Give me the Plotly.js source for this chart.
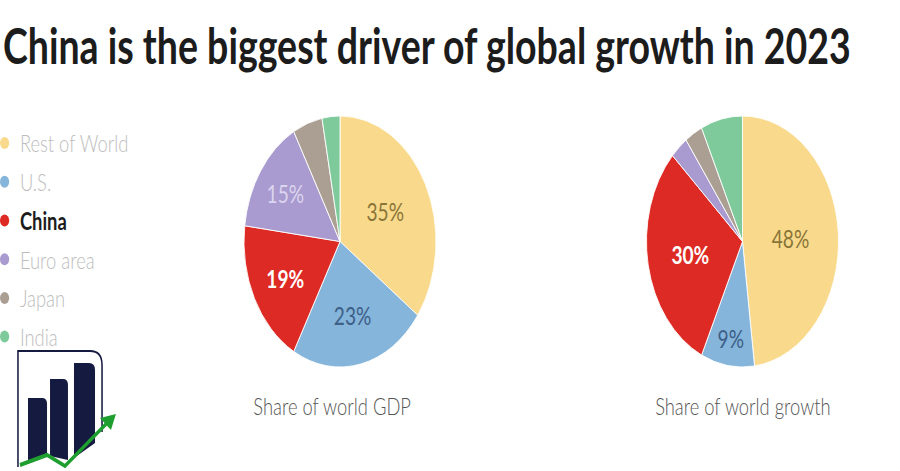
<!DOCTYPE html>
<html>
<head>
<meta charset="utf-8">
<script src="https://cdn.plot.ly/plotly-3.0.1.min.js"></script>
<style>
  html, body { margin: 0; padding: 0; background: #ffffff; overflow: hidden; }
  #wrap { width: 900px; height: 471px; overflow: hidden; position: relative; }
  #chart { width: 1190px; height: 471px; transform: translateX(-10.714px) scaleX(0.7653); transform-origin: 0 0; }
</style>
</head>
<body>
<div id="wrap"><div id="chart"></div></div>
<script>
// ---- data ----
const categories = ['Rest of World', 'U.S.', 'China', 'Euro area', 'Japan', 'India'];
const sliceColors = ['#f9da8c', '#85b5da', '#de2a24', '#a99bcf', '#ab9f94', '#7fca9b'];
const gdpShare = [35, 23, 19, 15, 5, 3];
const growthShare = [48, 9, 30, 3, 3, 7];
const chartTitle = 'China is the biggest driver of global growth in 2023';
const pieTitles = ['Share of world GDP', 'Share of world growth'];

// ---- styling / geometry ----
const H = 471, S = 0.7653, E = 14, W2 = 1190;   // horizontal squeeze of the whole figure
function fx(xr) { return (xr / S + E) / W2; }   // reference pixel x -> paper x
function fy(yr) { return 1 - yr / H; }           // reference pixel y -> paper y
const labelColors = ['#8a7538', '#3d5f88', '#ffffff', '#dcd5ef', '#ffffff', '#ffffff'];
const gdpTemplate = ['%{value}%', '%{value}%', '<b>%{value}%</b>', '%{value}%', '', ''];
const growthTemplate = ['%{value}%', '%{value}%', '<b>%{value}%</b>', '', '', ''];
const halfDom = 138 / W2;

function pieTrace(values, tmpl, cxRef) {
  const c = fx(cxRef);
  return {
    type: 'pie', values: values, labels: categories, sort: false,
    direction: 'clockwise', rotation: 0,
    marker: { colors: sliceColors, line: { color: '#ffffff', width: 1 } },
    texttemplate: tmpl, textposition: 'inside', insidetextorientation: 'horizontal',
    textfont: { family: 'Lato, Roboto, sans-serif', size: 25, color: labelColors },
    domain: { x: [c - halfDom, c + halfDom], y: [fy(367), fy(116)] },
    showlegend: false, hoverinfo: 'skip'
  };
}

const traces = [
  pieTrace(gdpShare, gdpTemplate, 340),
  pieTrace(growthShare, growthTemplate, 742.5)
];
categories.forEach(function (c, i) {
  traces.push({
    type: 'scatter', mode: 'markers', x: [null], y: [null],
    name: c === 'China' ? '<span style="color:#1c1c1c"><b>' + c + '</b></span>' : c,
    legendgroup: 'g' + i,
    marker: { color: sliceColors[i], size: 12, symbol: 'circle' },
    hoverinfo: 'skip'
  });
});

// logo (decorative) in reference-pixel space -> paper
function P(x, y) { return fx(x).toFixed(4) + ',' + fy(y).toFixed(4); }
const navy = '#151a40', green = '#1e9e2e';
const shapes = [
  { type: 'path', xref: 'paper', yref: 'paper', line: { color: navy, width: 2 },
    path: 'M' + P(18, 467) + ' L' + P(18, 351) + ' L' + P(90, 351) + ' Q' + P(102, 351) + ' ' + P(102, 365) + ' L' + P(102, 432) },
  { type: 'path', xref: 'paper', yref: 'paper', fillcolor: navy, line: { width: 0 },
    path: 'M' + P(28, 462) + ' L' + P(28, 398) + ' L' + P(42, 398) + ' Q' + P(47, 398) + ' ' + P(47, 404) + ' L' + P(47, 456) + ' Z' },
  { type: 'path', xref: 'paper', yref: 'paper', fillcolor: navy, line: { width: 0 },
    path: 'M' + P(50, 456) + ' L' + P(50, 379) + ' L' + P(63, 379) + ' Q' + P(68, 379) + ' ' + P(68, 385) + ' L' + P(68, 460) + ' Z' },
  { type: 'path', xref: 'paper', yref: 'paper', fillcolor: navy, line: { width: 0 },
    path: 'M' + P(74, 458) + ' L' + P(74, 363) + ' L' + P(89, 363) + ' Q' + P(95, 363) + ' ' + P(95, 370) + ' L' + P(95, 443) + ' Z' },
  { type: 'path', xref: 'paper', yref: 'paper', line: { color: green, width: 4 },
    path: 'M' + P(20, 465) + ' L' + P(47, 455) + ' L' + P(65, 466) + ' L' + P(108, 422) },
  { type: 'path', xref: 'paper', yref: 'paper', fillcolor: green, line: { width: 0 },
    path: 'M' + P(116, 414) + ' L' + P(100, 418) + ' L' + P(111, 430) + ' Z' }
];

const layout = {
  width: W2, height: H,
  margin: { l: 0, r: 0, t: 0, b: 0 },
  paper_bgcolor: '#ffffff', plot_bgcolor: '#ffffff',
  title: {
    text: '<b>' + chartTitle + '</b>',
    x: fx(3), xanchor: 'left', xref: 'paper',
    y: fy(47), yanchor: 'middle', yref: 'container',
    font: { family: 'Lato, Roboto, sans-serif', size: 49, color: '#1c1c1c' }
  },
  xaxis: { visible: false }, yaxis: { visible: false },
  showlegend: true,
  legend: {
    x: 0, xanchor: 'left', y: fy(121), yanchor: 'top',
    traceorder: 'grouped', tracegroupgap: 4.5, itemsizing: 'constant',
    font: { family: 'Lato, Roboto, sans-serif', size: 24, color: '#bdbdbd', weight: 300 },
    bgcolor: 'rgba(0,0,0,0)', itemclick: false, itemdoubleclick: false
  },
  annotations: pieTitles.map(function (t, i) {
    return {
      text: t, xref: 'paper', yref: 'paper',
      x: fx([332, 742.5][i]), y: fy(405),
      xanchor: 'center', yanchor: 'middle', showarrow: false,
      font: { family: 'Lato, Roboto, sans-serif', size: 24, weight: 300, color: '#555555' }
    };
  }),
  shapes: shapes
};

Plotly.newPlot('chart', traces, layout, { displayModeBar: false, staticPlot: true });
</script>
</body>
</html>
